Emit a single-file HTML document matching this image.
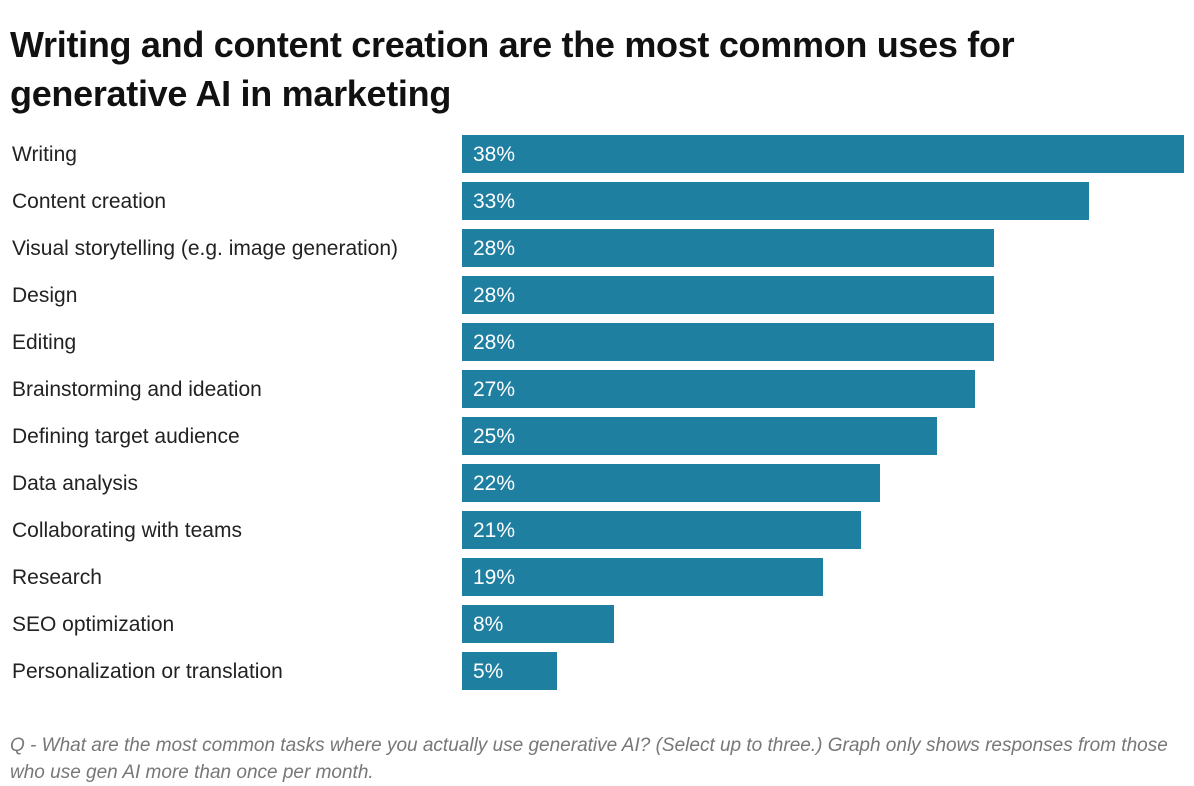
<!DOCTYPE html>
<html><head><meta charset="utf-8"><style>
body{margin:0;background:#fff;width:1194px;height:785px;overflow:hidden;font-family:"Liberation Sans",sans-serif;}
#title{position:absolute;left:10px;top:20px;font-size:36px;font-weight:bold;line-height:49px;color:#111;margin:0;letter-spacing:-0.3px}
#note{position:absolute;left:10px;top:732px;font-size:19px;font-style:italic;color:#777;line-height:27px;width:1180px}
svg{position:absolute;left:0;top:0}
</style></head><body>
<h1 id="title">Writing and content creation are the most common uses for generative AI in marketing</h1>
<svg id="chart" width="1194" height="785"></svg>
<div id="note">Q - What are the most common tasks where you actually use generative AI? (Select up to three.) Graph only shows responses from those who use gen AI more than once per month.</div>
<script>
const categories=["Writing","Content creation","Visual storytelling (e.g. image generation)","Design","Editing","Brainstorming and ideation","Defining target audience","Data analysis","Collaborating with teams","Research","SEO optimization","Personalization or translation"];
const values=[38,33,28,28,28,27,25,22,21,19,8,5];
const valueLabels=["38%","33%","28%","28%","28%","27%","25%","22%","21%","19%","8%","5%"];
const svg=document.getElementById('chart');
const NS='http://www.w3.org/2000/svg';
const x0=462,xScale=v=>x0+v*(722/38);
const yTop=i=>135+i*47;
categories.forEach((c,i)=>{
  const y=yTop(i);
  const r=document.createElementNS(NS,'rect');
  r.setAttribute('x',x0);r.setAttribute('y',y);r.setAttribute('width',xScale(values[i])-x0);r.setAttribute('height',38);r.setAttribute('fill','#1f7fa1');
  
  
  svg.appendChild(r);
  const t=document.createElementNS(NS,'text');
  t.setAttribute('x',12);t.setAttribute('y',y+26);t.setAttribute('font-size','21');t.setAttribute('fill','#222');t.textContent=c;
  
  
  svg.appendChild(t);
  const v=document.createElementNS(NS,'text');
  v.setAttribute('x',x0+11);v.setAttribute('y',y+26);v.setAttribute('font-size','21');v.setAttribute('fill','#fff');v.textContent=valueLabels[i];
  
  
  svg.appendChild(v);
});
</script>
</body></html>
